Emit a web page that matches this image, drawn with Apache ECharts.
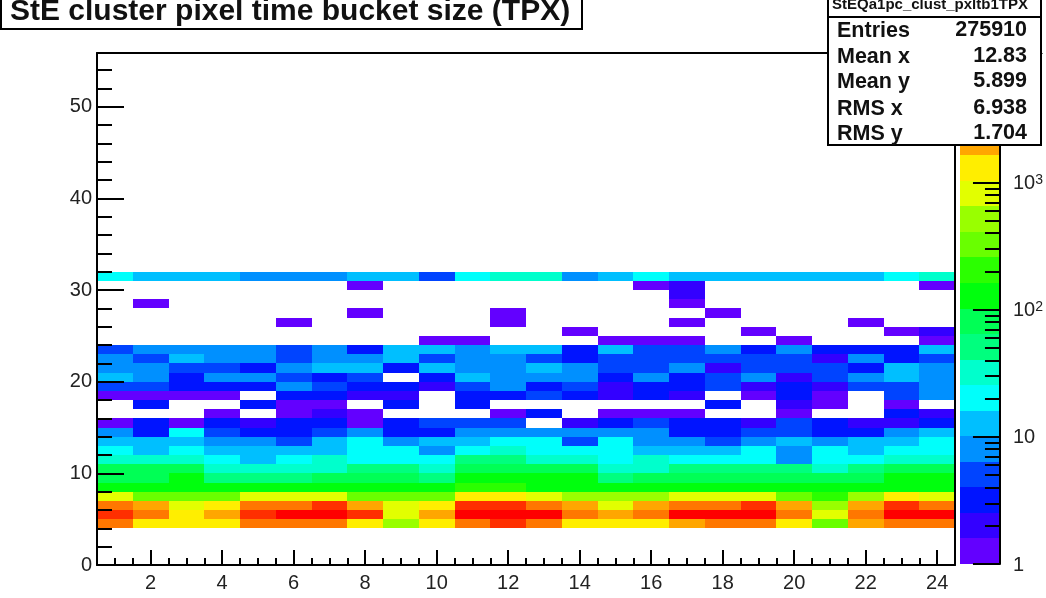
<!DOCTYPE html>
<html><head><meta charset="utf-8">
<style>html,body{margin:0;padding:0;background:#fff;overflow:hidden}#c{width:1046px;height:598px;filter:blur(0.55px)}</style>
<script src="https://cdn.jsdelivr.net/npm/echarts@6/dist/echarts.min.js"></script>
</head><body><div id="c"></div>
<script>
const titleText = 'StE cluster pixel time bucket size (TPX)';
const statsName = 'StEQa1pc_clust_pxltb1TPX';
const statsLabels = ['Entries', 'Mean x', 'Mean y', 'RMS x', 'RMS y'];
const statsValues = ['275910', '12.83', '5.899', '6.938', '1.704'];
const xMajor = [2,4,6,8,10,12,14,16,18,20,22,24];
const yMajor = [0,10,20,30,40,50];
const zMaxLog = 4.02;
const zLabels = [0,1,2,3,4];
const zMinorCounts = [2,3,4,5,6,7,8,9,20,30,40,50,60,70,80,90,200,300,400,500,600,700,800,900,2000,3000,4000,5000,6000,7000,8000,9000];
const palette = ['#6300ff','#3300ff','#0014ff','#0044ff','#0090ff','#00bfff','#00fffb','#00ffcc','#00ff7e','#00ff55','#00ff0d','#2bff00','#69ff00','#99ff00','#e2ff00','#ffee00','#ffa600','#ff7700','#ff2f00','#ff0000'];

const row4  = [3250,1300,1300,1300,3250,3250,3250,1300,520,1300,3250,5200,3250,1300,1300,1300,2050,3250,3250,1300,320,2050,3250,3250];
const row5  = [5200,3250,1300,2050,5200,8200,8200,5200,820,2050,8200,8200,8200,3250,2050,3250,8200,8200,8200,3250,820,3250,8200,8200];
const row6  = [3250,2050,820,1300,3250,3250,5200,2050,820,1300,5200,5200,3250,2050,820,2050,3250,3250,5200,2050,520,2050,5200,3250];
const row7  = [820,320,320,320,820,820,820,320,320,320,1300,1300,820,520,520,520,820,820,820,320,200,520,1300,820];
const row8  = [130,130,130,130,130,130,130,130,130,130,200,200,130,130,130,130,130,130,130,130,130,130,130,130];
const row9  = [80,80,130,50,50,50,80,80,80,50,130,130,130,130,50,80,80,80,80,80,80,80,130,130];
const row10 = [80,80,80,32,32,32,32,50,50,32,80,80,80,80,32,32,50,50,50,50,32,50,80,80];
const row11 = [32,32,32,20,13,20,32,20,20,20,50,50,32,32,20,32,20,20,20,8,20,20,32,32];
const row12 = [20,13,20,13,13,13,13,20,20,8,20,32,20,20,20,13,13,13,20,8,20,13,20,20];
const row13 = [13,13,13,8,8,5,13,20,8,13,13,20,20,5,20,8,8,5,8,13,8,13,13,20];
const row14 = [8,3,20,5,3,3,5,8,3,3,8,8,8,8,8,8,3,3,5,5,3,3,8,13];
const row15 = [1,3,1,3,2,3,3,1,3,5,5,5,0,2,3,5,3,3,2,5,3,2,2,3];
const row16 = [0,0,0,1,0,1,2,1,0,0,0,1,3,0,1,1,1,0,0,1,0,0,3,2];
const row17 = [0,3,0,0,3,1,1,0,3,0,3,0,0,0,0,0,0,3,0,2,1,0,1,0];
const row18 = [1,1,1,1,0,3,3,2,2,0,3,3,5,3,2,3,2,0,1,3,1,0,5,8];
const row19 = [5,5,3,3,3,8,5,3,3,2,5,8,3,5,2,3,3,5,2,3,2,5,5,8];
const row20 = [13,8,3,8,8,5,3,5,0,3,13,8,8,8,3,8,3,5,8,2,5,8,13,8];
const row21 = [8,8,5,5,3,8,13,13,3,13,8,8,13,8,5,5,8,2,5,5,5,3,13,8];
const row22 = [8,5,13,8,8,5,8,8,13,5,8,8,5,3,5,5,5,5,5,5,2,8,3,5];
const row23 = [5,8,8,8,8,5,8,3,13,13,8,13,13,3,13,5,5,8,3,8,3,3,3,13];
const row24 = [0,0,0,0,0,0,0,0,0,1,1,0,0,0,1,1,1,0,0,1,0,0,0,1];
const row25 = [0,0,0,0,0,0,0,0,0,0,0,0,0,1,0,0,0,0,1,0,0,0,1,2];
const row26 = [0,0,0,0,0,1,0,0,0,0,0,1,0,0,0,0,1,0,0,0,0,1,0,0];
const row27 = [0,0,0,0,0,0,0,1,0,0,0,1,0,0,0,0,0,1,0,0,0,0,0,0];
const row28 = [0,1,0,0,0,0,0,0,0,0,0,0,0,0,0,0,1,0,0,0,0,0,0,0];
const row29 = [0,0,0,0,0,0,0,0,0,0,0,0,0,0,0,0,2,0,0,0,0,0,0,0];
const row30 = [0,0,0,0,0,0,0,1,0,0,0,0,0,0,0,1,2,0,0,0,0,0,0,1];
const row31 = [20,13,13,13,8,8,8,13,13,5,20,32,32,8,13,20,13,13,13,13,13,13,20,32];
const rows = [row4,row5,row6,row7,row8,row9,row10,row11,row12,row13,row14,row15,row16,row17,row18,row19,row20,row21,row22,row23,row24,row25,row26,row27,row28,row29,row30,row31];
const firstRow = 4;

const bandOf = c => Math.min(palette.length - 1, Math.floor(Math.log10(c) / zMaxLog * palette.length));
const cells = [];
rows.forEach((r, i) => r.forEach((c, j) => { if (c > 0) cells.push([j + 1, i + firstRow, c]); }));
const bands = palette.map((_, i) => [i, i * zMaxLog / palette.length, (i + 1) * zMaxLog / palette.length]);

function rect(a, b, fill) {
  const x0 = Math.round(Math.min(a[0], b[0])), x1 = Math.round(Math.max(a[0], b[0]));
  const y0 = Math.round(Math.min(a[1], b[1])), y1 = Math.round(Math.max(a[1], b[1]));
  return { type: 'rect', shape: { x: x0, y: y0, width: x1 - x0, height: y1 - y0 }, style: { fill } };
}
const font = 'Liberation Sans';
const AXZ = 5;
const tick = (len, w) => ({ show: true, inside: true, length: len, lineStyle: { color: '#000', width: w } });
const blackLine = { show: true, onZero: false, lineStyle: { color: '#000', width: 2 } };
const noLine = { show: false, onZero: false };
const plainX = { type: 'value', min: 0.5, max: 24.5, gridIndex: 0, z: AXZ, splitLine: { show: false } };
const plainY = { type: 'value', min: 0, max: 55.86, gridIndex: 0, z: AXZ, splitLine: { show: false } };
const y2 = []; for (let v = 0; v <= 54; v += 2) y2.push(v);
const x2 = []; for (let v = 1; v <= 24; v += 0.5) x2.push(v);

const statsGraphics = [
  { type: 'rect', z: 100, shape: { x: 828, y: -2, width: 213, height: 147 }, style: { fill: '#fff', stroke: '#000', lineWidth: 2 } },
  { type: 'line', z: 101, shape: { x1: 828, y1: 17, x2: 1041, y2: 17 }, style: { stroke: '#000', lineWidth: 2 } },
  { type: 'text', z: 102, style: { x: 930, y: 5, text: statsName, font: 'bold 15px "' + font + '"', fill: '#111', textAlign: 'center', textVerticalAlign: 'middle' } }
];
const statsY = [31, 57, 82, 109, 134];
statsLabels.forEach((t, i) => {
  statsGraphics.push({ type: 'text', z: 102, style: { x: 837, y: statsY[i], text: t, font: 'bold 21.5px "' + font + '"', fill: '#111', textAlign: 'left', textVerticalAlign: 'middle' } });
  statsGraphics.push({ type: 'text', z: 102, style: { x: 1027, y: statsY[i] - 1, text: statsValues[i], font: 'bold 21.5px "' + font + '"', fill: '#111', textAlign: 'right', textVerticalAlign: 'middle' } });
});

const chart = echarts.init(document.getElementById('c'), null, { renderer: 'canvas' });
chart.setOption({
  animation: false,
  backgroundColor: '#fff',
  grid: [
    { left: 97, top: 53, width: 858, height: 512 },
    { left: 960, top: 53, width: 49, height: 511 }
  ],
  xAxis: [
    { ...plainX, position: 'bottom', axisLine: blackLine, axisTick: { ...tick(15, 2), customValues: xMajor },
      axisLabel: { show: true, customValues: xMajor, margin: 8, fontFamily: font, fontSize: 20, color: '#222' } },
    { ...plainX, position: 'bottom', axisLine: noLine, axisTick: { ...tick(7, 2), customValues: x2 }, axisLabel: { show: false } },
    { ...plainX, position: 'top', axisLine: blackLine, axisTick: { show: false }, axisLabel: { show: false } },
    { type: 'value', gridIndex: 1, min: 0, max: 1, show: false, splitLine: { show: false } }
  ],
  yAxis: [
    { ...plainY, position: 'left', axisLine: blackLine, axisTick: { ...tick(27, 2), customValues: yMajor },
      axisLabel: { show: true, customValues: yMajor, margin: 5, padding: [3, 0, 0, 0], fontFamily: font, fontSize: 20, color: '#222' } },
    { ...plainY, position: 'left', axisLine: noLine, axisTick: { ...tick(15, 2), customValues: y2 }, axisLabel: { show: false } },
    { ...plainY, position: 'right', axisLine: blackLine, axisTick: { show: false }, axisLabel: { show: false } },
    { type: 'value', gridIndex: 1, z: AXZ, min: 0, max: zMaxLog, position: 'right', splitLine: { show: false }, axisLine: blackLine,
      axisTick: { ...tick(27, 2), customValues: zLabels },
      axisLabel: { show: true, customValues: zLabels, margin: 13, padding: [2, 0, 0, 0], fontFamily: font, fontSize: 20, color: '#222', align: 'left',
        formatter: v => v === 0 ? '1' : v === 1 ? '10' : '10{sup|' + v + '}',
        rich: { sup: { fontFamily: font, fontSize: 14, color: '#222', verticalAlign: 'top', padding: [0, 0, 8, 0] } } } },
    { type: 'value', gridIndex: 1, z: AXZ, min: 0, max: zMaxLog, position: 'right', splitLine: { show: false }, axisLine: noLine,
      axisTick: { ...tick(15, 2), customValues: zMinorCounts.map(c => Math.log10(c)) }, axisLabel: { show: false } }
  ],
  series: [
    { type: 'custom', name: 'cells', xAxisIndex: 0, yAxisIndex: 0, data: cells, encode: { x: 0, y: 1 }, z: 1, silent: true, clip: true,
      renderItem: (p, api) => rect(api.coord([api.value(0) - 0.5, api.value(1)]), api.coord([api.value(0) + 0.5, api.value(1) + 1]), palette[bandOf(api.value(2))]) },
    { type: 'custom', name: 'palette', xAxisIndex: 3, yAxisIndex: 3, data: bands, encode: { y: [1, 2] }, z: 1, silent: true,
      renderItem: (p, api) => rect(api.coord([0, api.value(1)]), api.coord([1, api.value(2)]), palette[api.value(0)]) }
  ],
  graphic: { elements: [
    { type: 'rect', z: 100, shape: { x: 1, y: -3, width: 581, height: 32 }, style: { fill: '#fff', stroke: '#000', lineWidth: 2 } },
    { type: 'text', z: 102, style: { x: 10, y: 12, text: titleText, font: 'bold 30px "' + font + '"', fill: '#111', textAlign: 'left', textVerticalAlign: 'middle' } },
    ...statsGraphics
  ] }
});
</script></body></html>
